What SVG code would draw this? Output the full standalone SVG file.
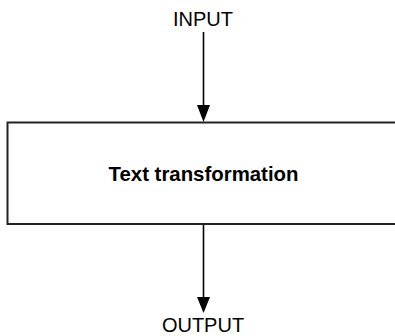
<svg xmlns="http://www.w3.org/2000/svg" width="395" height="336" viewBox="0 0 395 336">
<style>
.lbl{font-family:"Liberation Sans",Arial,Helvetica,sans-serif;font-size:20px;fill:#000;text-anchor:middle}
.b{font-weight:bold;font-size:20.4px}
.edge{stroke:#000;stroke-width:1.6;fill:none}
.head{fill:#000}
</style>
<g id="input"><text class="lbl" x="203" y="26">INPUT</text></g>
<g id="transform">
<rect x="7.5" y="122.5" width="400" height="101.5" fill="#fff" stroke="#222" stroke-width="2"/>
<text class="lbl b" x="203.5" y="181">Text transformation</text>
</g>
<g id="output"><text class="lbl" x="203" y="331.5">OUTPUT</text></g>
<g id="connectors">
<line class="edge" x1="203.5" y1="32" x2="203.5" y2="106"/>
<path class="head" d="M197,105 L210,105 L203.5,122 Z"/>
<line class="edge" x1="203.5" y1="225" x2="203.5" y2="298"/>
<path class="head" d="M197,297 L210,297 L203.5,313 Z"/>
</g>
</svg>
